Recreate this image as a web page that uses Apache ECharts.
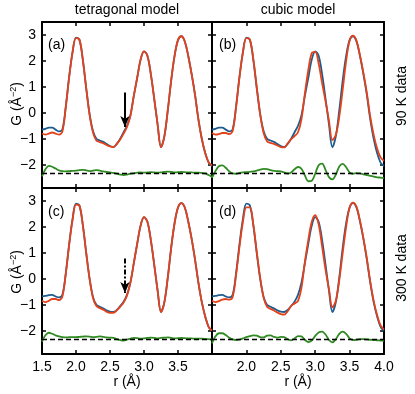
<!DOCTYPE html>
<html>
<head>
<meta charset="utf-8">
<script src="https://cdn.jsdelivr.net/npm/echarts@6/dist/echarts.min.js"></script>
<style>
  html, body { margin: 0; padding: 0; background: #fff; }
  #chart { width: 415px; height: 394px; }
</style>
</head>
<body>
<div id="chart"></div>
<script>
// r grid (Å)
const r = [1.50, 1.55, 1.60, 1.65, 1.70, 1.75, 1.80, 1.85, 1.90, 1.95,
  2.00, 2.05, 2.10, 2.15, 2.20, 2.25, 2.30, 2.35, 2.40, 2.45,
  2.50, 2.55, 2.60, 2.65, 2.70, 2.75, 2.80, 2.85, 2.90, 2.95,
  3.00, 3.05, 3.10, 3.15, 3.20, 3.25, 3.30, 3.35, 3.40, 3.45,
  3.50, 3.55, 3.60, 3.65, 3.70, 3.75, 3.80, 3.85, 3.90, 3.95, 4.00]

// measured G(r), 90 K
const data90 = [-0.65, -0.62, -0.57, -0.57, -0.65, -0.72, -0.64, 0.25, 1.40, 2.35,
  2.90, 2.82, 2.05, 0.95, -0.05, -0.70, -1.00, -1.07, -1.12, -1.20,
  -1.28, -1.32, -1.20, -1.00, -0.75, -0.50, -0.10, 0.65, 1.35, 2.05,
  2.37, 2.20, 1.50, 0.55, -0.45, -1.33, -0.90, 0.10, 1.25, 2.20,
  2.80, 2.95, 2.75, 2.20, 1.50, 0.70, -0.25, -1.00, -1.55, -1.92, -2.05]

// measured G(r), 300 K
const data300 = [-0.68, -0.66, -0.63, -0.62, -0.68, -0.72, -0.62, 0.22, 1.35, 2.32,
  2.90, 2.83, 2.08, 1.00, 0.00, -0.70, -1.00, -1.08, -1.14, -1.22,
  -1.27, -1.28, -1.20, -1.05, -0.88, -0.62, -0.15, 0.60, 1.35, 2.05,
  2.38, 2.20, 1.50, 0.55, -0.45, -1.28, -0.90, 0.05, 1.20, 2.15,
  2.75, 2.92, 2.75, 2.22, 1.55, 0.75, -0.15, -0.90, -1.45, -1.85, -2.00]

// fits
const fitTet90 = [-0.80, -0.84, -0.80, -0.76, -0.80, -0.84, -0.72, 0.22, 1.38, 2.35,
  2.88, 2.82, 2.05, 0.95, -0.08, -0.76, -1.07, -1.13, -1.17, -1.24,
  -1.30, -1.32, -1.20, -1.03, -0.80, -0.55, -0.12, 0.65, 1.35, 2.05,
  2.37, 2.20, 1.50, 0.55, -0.45, -1.33, -0.90, 0.10, 1.25, 2.20,
  2.80, 2.95, 2.75, 2.20, 1.50, 0.70, -0.25, -1.00, -1.55, -1.90, -2.03]

const fitCub90 = [-0.78, -0.84, -0.82, -0.78, -0.78, -0.82, -0.70, 0.22, 1.38, 2.33,
  2.88, 2.82, 2.08, 1.00, -0.05, -0.78, -1.10, -1.16, -1.20, -1.26,
  -1.32, -1.33, -1.18, -1.02, -0.90, -0.75, -0.25, 0.75, 1.65, 2.30,
  2.35, 1.90, 1.15, 0.45, -0.30, -1.05, -0.85, -0.15, 0.90, 2.00,
  2.78, 2.97, 2.78, 2.22, 1.55, 0.78, -0.15, -0.85, -1.38, -1.72, -1.85]

const fitTet300 = [-0.85, -0.90, -0.85, -0.78, -0.78, -0.82, -0.68, 0.20, 1.32, 2.28,
  2.86, 2.82, 2.08, 1.00, 0.00, -0.74, -1.05, -1.13, -1.19, -1.27,
  -1.31, -1.31, -1.22, -1.08, -0.92, -0.64, -0.15, 0.60, 1.35, 2.05,
  2.38, 2.20, 1.50, 0.55, -0.45, -1.28, -0.90, 0.05, 1.20, 2.15,
  2.75, 2.92, 2.75, 2.22, 1.55, 0.75, -0.15, -0.90, -1.45, -1.85, -2.00]

const fitCub300 = [-0.85, -0.90, -0.86, -0.80, -0.78, -0.80, -0.70, 0.15, 1.25, 2.20,
  2.75, 2.75, 2.10, 1.05, 0.05, -0.72, -1.08, -1.16, -1.22, -1.30,
  -1.36, -1.38, -1.25, -1.05, -0.95, -0.85, -0.35, 0.65, 1.50, 2.20,
  2.45, 2.10, 1.25, 0.35, -0.40, -1.10, -0.85, -0.05, 1.00, 2.00,
  2.75, 2.94, 2.78, 2.25, 1.58, 0.80, -0.10, -0.85, -1.40, -1.80, -1.95]

// difference curves (already offset)
const diffTet90 = [-2.45, -2.18, -2.05, -2.08, -2.15, -2.22, -2.25, -2.26, -2.25, -2.24,
  -2.23, -2.21, -2.20, -2.22, -2.25, -2.23, -2.21, -2.23, -2.26, -2.28,
  -2.30, -2.32, -2.35, -2.38, -2.40, -2.38, -2.35, -2.33, -2.31, -2.30,
  -2.31, -2.30, -2.29, -2.30, -2.31, -2.30, -2.28, -2.27, -2.28, -2.30,
  -2.29, -2.28, -2.29, -2.30, -2.30, -2.31, -2.31, -2.32, -2.34, -2.40, -2.47]

const diffCub90 = [-2.51, -2.25, -2.06, -2.03, -2.12, -2.26, -2.34, -2.35, -2.32, -2.30,
  -2.29, -2.28, -2.26, -2.23, -2.19, -2.16, -2.17, -2.21, -2.24, -2.25,
  -2.26, -2.30, -2.34, -2.30, -2.18, -2.09, -2.16, -2.42, -2.64, -2.62,
  -2.35, -2.02, -1.96, -2.20, -2.48, -2.57, -2.38, -2.07, -1.97, -2.10,
  -2.30, -2.35, -2.33, -2.34, -2.37, -2.40, -2.43, -2.46, -2.49, -2.50, -2.52]

const diffTet300 = [-2.42, -2.18, -2.08, -2.12, -2.18, -2.22, -2.25, -2.26, -2.25, -2.25,
  -2.25, -2.24, -2.23, -2.22, -2.23, -2.25, -2.24, -2.22, -2.24, -2.26,
  -2.27, -2.28, -2.32, -2.36, -2.38, -2.35, -2.31, -2.28, -2.29, -2.31,
  -2.30, -2.28, -2.27, -2.28, -2.30, -2.28, -2.27, -2.26, -2.28, -2.30,
  -2.29, -2.28, -2.29, -2.30, -2.30, -2.31, -2.31, -2.31, -2.32, -2.33, -2.34]

const diffCub300 = [-2.49, -2.22, -2.10, -2.10, -2.17, -2.27, -2.34, -2.36, -2.35, -2.30,
  -2.25, -2.21, -2.18, -2.19, -2.25, -2.26, -2.19, -2.18, -2.24, -2.27,
  -2.24, -2.25, -2.33, -2.37, -2.30, -2.21, -2.22, -2.35, -2.44, -2.38,
  -2.20, -2.07, -2.04, -2.15, -2.36, -2.45, -2.33, -2.12, -2.04, -2.12,
  -2.30, -2.36, -2.35, -2.33, -2.33, -2.34, -2.35, -2.36, -2.37, -2.38, -2.39]

const baseline = -2.32
const xTicks = ['1.5', '2.0', '2.5', '3.0', '3.5', '4.0']
const yTicks = ['3', '2', '1', '0', '−1', '−2']
const panelNames = ['(a)', '(b)', '(c)', '(d)']

const FONT = 'Liberation Sans'
const BLUE = '#1d5c8c'
const RED = '#e5411b'
const GREEN = '#2f8a22'

const panels = [
  { rect: { left: 42, top: 22, width: 170, height: 166 }, data: data90, fit: fitTet90, diff: diffTet90, arrow: 'solid' },
  { rect: { left: 212, top: 22, width: 172, height: 166 }, data: data90, fit: fitCub90, diff: diffCub90 },
  { rect: { left: 42, top: 188, width: 170, height: 166 }, data: data300, fit: fitTet300, diff: diffTet300, arrow: [5, 2, 2, 2] },
  { rect: { left: 212, top: 188, width: 172, height: 166 }, data: data300, fit: fitCub300, diff: diffCub300 }
]

function pairs(arr) {
  return r.map((x, i) => [x, arr[i]])
}

const frameLine = { show: true, onZero: false, lineStyle: { color: '#000', width: 2 } }
const tickStyle = { show: true, inside: true, length: 4, lineStyle: { color: '#000', width: 1.5 } }

const grids = []
const xAxes = []
const yAxes = []
const series = []

panels.forEach((p, i) => {
  grids.push(Object.assign({ containLabel: false, outerBoundsMode: 'none' }, p.rect))

  const bottomRow = i >= 2
  const leftCol = i % 2 === 0
  ;['bottom', 'top'].forEach(pos => {
    xAxes.push({
      gridIndex: i, type: 'value', position: pos,
      min: 1.5, max: 4.0, interval: 0.5,
      axisLine: frameLine, axisTick: tickStyle, splitLine: { show: false },
      axisLabel: {
        show: pos === 'bottom' && bottomRow, margin: 6,
        fontFamily: FONT, fontSize: 14, color: '#000',
        formatter: v => {
          const s = v.toFixed(1)
          if (leftCol && s === '4.0') return ''
          if (!leftCol && s === '1.5') return ''
          return xTicks.includes(s) ? s : ''
        }
      },
      name: pos === 'bottom' && bottomRow ? 'r (Å)' : '',
      nameLocation: 'middle', nameGap: 19,
      nameTextStyle: { fontFamily: FONT, fontSize: 14, color: '#000' }
    })
  })
  ;['left', 'right'].forEach(pos => {
    yAxes.push({
      gridIndex: i, type: 'value', position: pos,
      min: -2.9, max: 3.5, splitNumber: 6,
      axisLine: frameLine, axisTick: tickStyle, splitLine: { show: false },
      axisLabel: {
        show: pos === 'left' && leftCol, margin: 6,
        fontFamily: FONT, fontSize: 14, color: '#000',
        formatter: v => {
          if (Math.abs(v - Math.round(v)) > 1e-6) return ''
          const s = String(Math.round(v)).replace('-', '−')
          return yTicks.includes(s) ? s : ''
        }
      }
    })
  })

  const line = (name, arr, color, extra) => Object.assign({
    name, type: 'line', xAxisIndex: 2 * i, yAxisIndex: 2 * i,
    data: pairs(arr), smooth: 0.35, showSymbol: false, symbol: 'none',
    lineStyle: { color, width: 1.8 }, silent: true, animation: false
  }, extra || {})

  series.push(line('data', p.data, BLUE))
  series.push(line('fit', p.fit, RED, p.arrow ? {
    markLine: {
      silent: true, animation: false,
      symbol: ['none', 'arrow'], symbolSize: [7, 11],
      label: { show: false },
      lineStyle: { color: '#000', width: 2, type: p.arrow },
      itemStyle: { color: '#000' },
      data: [[{ coord: [2.72, 0.78] }, { coord: [2.72, -0.55] }]]
    }
  } : null))
  series.push(line('difference', p.diff, GREEN, {
    markLine: {
      silent: true, animation: false, symbol: 'none',
      label: { show: false },
      lineStyle: { color: '#000', width: 1.3, type: [5, 3] },
      data: [{ yAxis: baseline }]
    }
  }))
})

const txt = (text, x, y, rot, extra) => ({
  type: 'text', x, y, rotation: rot || 0, silent: true,
  style: Object.assign({
    text, fill: '#000', align: 'center', verticalAlign: 'middle',
    font: '14px "' + FONT + '"'
  }, extra || {})
})

const gLabel = y => ({
  type: 'text', x: 17, y, rotation: Math.PI / 2, silent: true,
  style: {
    text: '{n|G (Å}{s|−2}{n|)}', align: 'center', verticalAlign: 'middle',
    rich: {
      n: { fontFamily: FONT, fontSize: 14, fill: '#000', color: '#000' },
      s: { fontFamily: FONT, fontSize: 9, fill: '#000', color: '#000', verticalAlign: 'top', padding: [0, 0, 6, 0] }
    }
  }
})

const graphic = [
  txt('tetragonal model', 127, 10),
  txt('cubic model', 298, 10),
  txt('90 K data', 402, 96, Math.PI / 2),
  txt('300 K data', 402, 268, Math.PI / 2),
  gLabel(104),
  gLabel(272),
  txt(panelNames[0], 48, 45, 0, { align: 'left' }),
  txt(panelNames[1], 219, 45, 0, { align: 'left' }),
  txt(panelNames[2], 48, 212, 0, { align: 'left' }),
  txt(panelNames[3], 219, 212, 0, { align: 'left' })
]

const chart = echarts.init(document.getElementById('chart'), null, { renderer: 'canvas' })
chart.setOption({
  animation: false,
  backgroundColor: '#fff',
  grid: grids,
  xAxis: xAxes,
  yAxis: yAxes,
  series,
  graphic
})
</script>
</body>
</html>
